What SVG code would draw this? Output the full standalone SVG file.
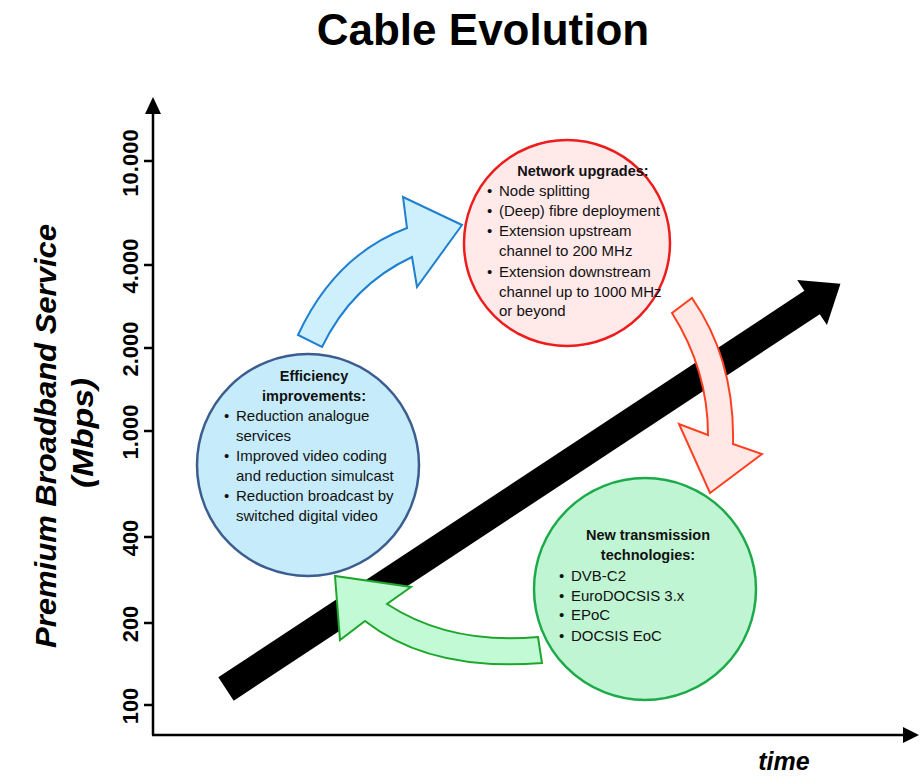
<svg xmlns="http://www.w3.org/2000/svg" width="920" height="778" viewBox="0 0 920 778">
<style>
.title{font-family:"Liberation Sans",Arial,sans-serif;font-weight:bold;font-size:44px;fill:#000}
.tick{font-family:"Liberation Sans",Arial,sans-serif;font-weight:bold;font-size:22px;fill:#000}
.axt{font-family:"Liberation Sans",Arial,sans-serif;font-weight:bold;font-style:italic;fill:#000}
.h{font-family:"Liberation Sans",Arial,sans-serif;font-weight:bold;font-size:14.5px;fill:#111}
.b{font-family:"Liberation Sans",Arial,sans-serif;font-size:15px;fill:#111}
.ax{stroke:#000;stroke-width:2.5;fill:none}
</style>
<rect width="920" height="778" fill="#fff"/>
<text class="title" x="483" y="45" text-anchor="middle">Cable Evolution</text>

<g id="axes">
  <line class="ax" x1="153" y1="735" x2="153" y2="110"/>
  <polygon points="153,97 145,114 161,114" fill="#000"/>
  <line class="ax" x1="152" y1="735" x2="905" y2="735"/>
  <polygon points="919,735 903,727 903,743" fill="#000"/>
  <g stroke="#000" stroke-width="2.5">
    <line x1="144" y1="161" x2="153" y2="161"/>
    <line x1="144" y1="265" x2="153" y2="265"/>
    <line x1="144" y1="348" x2="153" y2="348"/>
    <line x1="144" y1="431" x2="153" y2="431"/>
    <line x1="144" y1="537" x2="153" y2="537"/>
    <line x1="144" y1="623" x2="153" y2="623"/>
    <line x1="144" y1="705" x2="153" y2="705"/>
  </g>
  <text class="tick" text-anchor="middle" transform="translate(138,163) rotate(-90)">10.000</text>
  <text class="tick" text-anchor="middle" transform="translate(138,266) rotate(-90)">4.000</text>
  <text class="tick" text-anchor="middle" transform="translate(138,349) rotate(-90)">2.000</text>
  <text class="tick" text-anchor="middle" transform="translate(138,432) rotate(-90)">1.000</text>
  <text class="tick" text-anchor="middle" transform="translate(138,538) rotate(-90)">400</text>
  <text class="tick" text-anchor="middle" transform="translate(138,624) rotate(-90)">200</text>
  <text class="tick" text-anchor="middle" transform="translate(138,706) rotate(-90)">100</text>
  <text class="axt" font-size="30" text-anchor="middle" textLength="424" lengthAdjust="spacingAndGlyphs" transform="translate(56,436) rotate(-90)">Premium Broadband Service</text>
  <text class="axt" font-size="30" text-anchor="middle" textLength="110" lengthAdjust="spacingAndGlyphs" transform="translate(93,433) rotate(-90)">(Mbps)</text>
  <text class="axt" font-size="25" x="784" y="770" text-anchor="middle">time</text>
</g>

<g id="trend">
  <polygon transform="translate(226,689) rotate(-33.4)" points="0,-14 702,-14 702,-27 736,0 702,27 702,14 0,14" fill="#000"/>
</g>

<g id="node-network">
  <circle cx="567" cy="243" r="103" fill="#ffe9e9" stroke="#ee1c1c" stroke-width="2.5"/>
  <text class="h" x="583" y="176" text-anchor="middle">Network upgrades:</text>
  <g class="b">
    <text x="487" y="196">•</text><text x="499" y="196">Node splitting</text>
    <text x="487" y="216">•</text><text x="499" y="216">(Deep) fibre deployment</text>
    <text x="487" y="236">•</text><text x="499" y="236">Extension upstream</text>
    <text x="499" y="256">channel to 200 MHz</text>
    <text x="487" y="277">•</text><text x="499" y="277">Extension downstream</text>
    <text x="499" y="297">channel up to 1000 MHz</text>
    <text x="499" y="316">or beyond</text>
  </g>
</g>

<g id="node-efficiency">
  <circle cx="308" cy="465" r="111" fill="#c6ecfb" stroke="#3b5d8f" stroke-width="2.5"/>
  <text class="h" x="314" y="381" text-anchor="middle">Efficiency</text>
  <text class="h" x="314" y="401" text-anchor="middle">improvements:</text>
  <g class="b">
    <text x="224" y="421">•</text><text x="236" y="421">Reduction analogue</text>
    <text x="236" y="441">services</text>
    <text x="224" y="461">•</text><text x="236" y="461">Improved video coding</text>
    <text x="236" y="481">and reduction simulcast</text>
    <text x="224" y="501">•</text><text x="236" y="501">Reduction broadcast by</text>
    <text x="236" y="521">switched digital video</text>
  </g>
</g>

<g id="node-transmission">
  <circle cx="645" cy="589" r="111" fill="#c0f5d3" stroke="#1daa4a" stroke-width="2.5"/>
  <text class="h" x="648" y="540" text-anchor="middle">New transmission</text>
  <text class="h" x="648" y="560" text-anchor="middle">technologies:</text>
  <g class="b">
    <text x="559" y="581">•</text><text x="571" y="581">DVB-C2</text>
    <text x="559" y="601">•</text><text x="571" y="601">EuroDOCSIS 3.x</text>
    <text x="559" y="620">•</text><text x="571" y="620">EPoC</text>
    <text x="559" y="641">•</text><text x="571" y="641">DOCSIS EoC</text>
  </g>
</g>

<g id="connectors" stroke-width="2" stroke-linejoin="miter">
  <path d="M298,335 Q335,255 407,228 L403,197 L462,225 L417,287 L412,257 Q352,285 322,347 Z" fill="#cdf0fc" stroke="#1f7fd0"/>
  <path d="M692,298 Q735,360 733,444 L762,454 L710,493 L679,424 L708,435 Q708,370 672,313 Z" fill="#ffe8e6" stroke="#ff4020"/>
  <path d="M387,604 Q450,645 538,637 L542,663 Q430,672 365,621 L340,640 L335,576 L411,587 Z" fill="#c2fad6" stroke="#1ea62c"/>
</g>
</svg>
